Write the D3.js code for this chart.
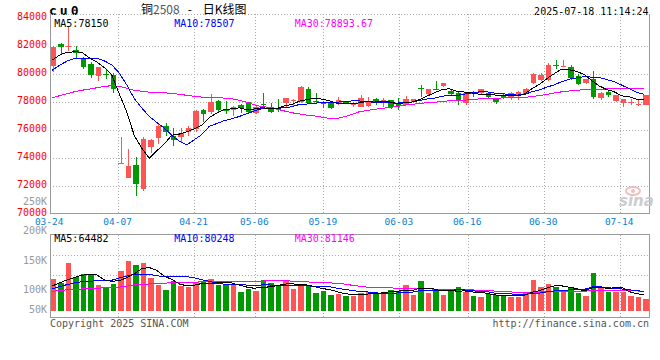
<!DOCTYPE html>
<html><head><meta charset="utf-8">
<script src="https://cdn.jsdelivr.net/npm/d3@7"></script>
<style>body{margin:0;background:#fff}svg{display:block}</style>
</head><body><svg id="c" width="660" height="360"></svg>
<script>
// ---------- data ----------
const tickLabels = ["03-24","04-07","04-21","05-06","05-19","06-03","06-16","06-30","07-14"];
const tickIndex  = [0, 9, 19, 27, 36, 46, 55, 65, 75];

const opens  = [80560,82130,82000,81750,81060,80750,79870,80020,79960,73640,
                72620,73490,71820,74800,75470,76340,75560,75500,75880,76090,
                77460,77320,78060,77430,77460,77820,78010,77270,77910,77660,
                77540,77940,78110,77990,78960,78070,77960,77990,77870,78060,
                77840,77700,77770,78250,78060,78180,77940,77820,78010,79020,
                78610,78980,79180,78840,78660,77940,78670,78660,78660,78230,
                78430,78370,78460,78610,79410,79560,79610,80650,80600,80510,
                79890,79410,79660,78340,78770,78060,77940,78000,77880,77820];
const closes = [81940,81940,82020,81510,80510,79920,80510,79990,78940,73680,
                73480,72130,75390,75340,76320,75900,75300,75780,76160,77410,
                77180,77990,77420,77400,77660,77560,77280,77700,77880,77340,
                77510,78320,78140,79060,77940,78050,77940,77560,78180,77890,
                77870,78300,78060,77940,78180,77660,77770,78230,78230,79000,
                78940,78960,79370,78610,78060,78660,78650,78940,78370,78010,
                78400,78700,78770,78960,80010,79960,80680,80620,80620,79770,
                79300,79660,78410,78700,78490,78490,78230,78030,77900,78490];
const highs  = [82000,82230,83370,82040,81230,80900,80520,80320,80090,75540,
                74680,74100,75510,75400,76510,76520,76150,76200,76300,77460,
                77540,78610,78180,78060,77750,77850,78050,77730,78650,77940,
                78250,78330,78250,79130,79060,78660,78060,78050,78370,78100,
                78040,78540,78410,78300,78300,78200,78300,78460,78260,79250,
                78960,79490,79390,78940,78770,78680,78840,78960,78770,78250,
                78660,78770,78820,79010,80090,80090,80800,81040,81040,80680,
                80010,79680,80250,78720,78800,78500,78250,78230,78180,78500];
const lows   = [80200,81460,81700,81190,80390,79770,79490,79660,78700,73600,
                72580,71340,71700,74390,75040,75560,74890,75150,75560,75910,
                76560,77140,77270,77180,77040,77270,77200,77180,77700,77270,
                77340,77700,77700,77950,77900,77890,77580,77500,77800,77850,
                77660,77650,77700,77800,77660,77510,77460,77780,77950,78410,
                78460,78940,79090,78540,77820,77820,78410,78600,78230,77890,
                78230,78180,78130,78560,79300,79490,79550,80370,80590,79610,
                79250,79320,78230,78180,78410,78000,77700,77820,77770,77800];
const volumesK = [118.6,111.9,145.8,122.0,126.6,125.4,108.5,102.9,110.2,132.2,
                  149.2,142.4,146.3,120.3,108.5,100.0,115.3,107.3,104.6,113.1,
                  114.7,118.6,108.5,108.5,109.0,97.1,101.7,98.3,117.0,111.9,
                  108.0,114.7,101.7,109.7,108.5,94.9,98.8,91.5,93.2,89.8,
                  90.3,95.4,97.1,95.4,96.6,100.0,98.3,108.5,91.5,115.3,
                  94.9,98.3,91.5,100.0,105.1,97.1,89.8,88.1,92.7,91.5,
                  90.3,87.6,87.6,97.1,117.0,105.1,110.2,104.6,98.3,104.6,
                  94.9,89.8,128.8,104.6,97.1,97.1,97.1,89.8,88.1,84.7];

// moving-average values before enough in-window history exists
const ma5Lead  = [80990,81360,81570,81600];
const ma10Lead = [80270,80630,80930,81130,81160,81160,81140,80960,80680];
const ma30Lead = [78300,78464,78607,78750,78857,78943,79036,79143,79179,79143,
                  79000,78857,78786,78729,78693,78679,78643,78571,78500,78429,
                  78371,78357,78343,78300,78250,78143,78000,77821,77679];
const vma5Lead  = [106.3,111.9,117.0,121.2];
const vma10Lead = [101.7,105.5,109,112,114,115,115.5,116,116.5];
const vma30Lead = [97.8,99,100.2,101,101.7,102.2,103,103.7,104.3,105,
                   106.5,108.5,109.6,110.2,110.8,111.5,112.5,113.1,113.3,113.5,
                   113.6,113.8,114,114.2,114.4,114.6,114.7,114.7,114.7];

const priceTicks = [84000,82000,80000,78000,76000,74000,72000,70000];
const priceGrid  = [82000,80000,78000,76000,74000,72000];
const volTicks   = [250,200,150,100,50];
const volTickLabels = ["250K","200K","150K","100K","50K"];

const priceMaLabels = ["MA5:78150","MA10:78507","MA30:78893.67"];
const volMaLabels   = ["MA5:64482","MA10:80248","MA30:81146"];
const maColors = ["#000000","#0000ff","#ff00ff"];

// ---------- helpers ----------
function movingAvg(vals, n, lead){
  return vals.map((v,i)=> i < n-1 ? lead[i] : d3.mean(vals.slice(i-n+1,i+1)));
}

const svg = d3.select("#c");
const MONO = "'DejaVu Sans Mono', monospace";
const L=50, R=649.5, T=14, B=213.5, VT=234.5, VB=317.5, VBASE=310.7;
const N = closes.length;
const RED="#ff5454", GREEN="#009a00", GRID="#aaaaaa", BORDER="#999999";

const xC = d3.scaleLinear().domain([0,N-1]).range([50.7,643.2]);
const xG = d3.scaleLinear().domain([0,N-1]).range([50,650.4]);
const yP = d3.scaleLinear().domain([70000,84000]).range([214.3,18.3]);
const yV = d3.scaleLinear().domain([100,150]).range([290,260.5]);
const BW = 5.7;

// ---------- header texts ----------
svg.append("text").attr("x",49).attr("y",11.5).attr("dominant-baseline","middle")
  .attr("font-family",MONO).attr("font-weight","bold").attr("font-size",13)
  .attr("letter-spacing",3).attr("fill","#000").text("cu0");
const title = svg.append("text").attr("x",141).attr("y",14)
  .attr("font-family","'Noto Sans CJK SC', sans-serif")
  .attr("font-size",12).attr("fill","#000");
title.append("tspan").text("铜");
title.append("tspan").attr("fill","#555").text("2508");
title.append("tspan").attr("dx",8).text("-");
title.append("tspan").attr("dx",11).text("日K线图");
svg.append("text").attr("x",648.5).attr("y",11.5).attr("text-anchor","end")
  .attr("dominant-baseline","middle").attr("font-family",MONO).attr("font-size",10)
  .attr("fill","#000").text("2025-07-18 11:14:24");

// ---------- grids ----------
const grid = svg.append("g").attr("stroke",GRID).attr("stroke-dasharray","1,2")
  .attr("shape-rendering","crispEdges");
grid.selectAll(".hg").data(priceGrid).join("line")
  .attr("x1",L).attr("x2",R).attr("y1",d=>yP(d)).attr("y2",d=>yP(d));
grid.append("line").attr("x1",L).attr("x2",R).attr("y1",T).attr("y2",T);
grid.selectAll(".vg").data(tickIndex.slice(1)).join("line")
  .attr("x1",d=>xG(d)).attr("x2",d=>xG(d)).attr("y1",T).attr("y2",B);
grid.selectAll(".vg2").data(tickIndex.slice(1)).join("line")
  .attr("x1",d=>xG(d)).attr("x2",d=>xG(d)).attr("y1",VT).attr("y2",VB);
grid.selectAll(".vh").data([255,275.7]).join("line")
  .attr("x1",L).attr("x2",R).attr("y1",d=>d).attr("y2",d=>d);

// ---------- borders ----------
const bd = svg.append("g").attr("stroke",BORDER).attr("shape-rendering","crispEdges").attr("fill","none");
bd.append("path").attr("d",`M${L},${T}V${B}H${R}V${T}`);
bd.append("rect").attr("x",L).attr("y",VT).attr("width",R-L).attr("height",VB-VT);

// ---------- axes labels ----------
const pAx = svg.append("g").attr("transform",`translate(47,-2.2)`)
  .call(d3.axisLeft(yP).tickValues(priceTicks).tickSize(0).tickPadding(0).tickFormat(d3.format("d")));
pAx.select(".domain").remove();
pAx.selectAll("text").attr("fill","#ff0000").attr("font-family",MONO).attr("font-size",10);

const vAx = svg.append("g").attr("transform",`translate(47,0)`)
  .call(d3.axisLeft(yV).tickValues(volTicks).tickSize(0).tickPadding(0)
    .tickFormat((d,i)=>volTickLabels[i]));
vAx.select(".domain").remove();
vAx.selectAll(".tick").attr("transform",d=>`translate(0,${Math.min(yV(d),VBASE-0.5)})`);
vAx.selectAll("text").attr("fill","#999").attr("font-family",MONO).attr("font-size",10);

const dAx = svg.append("g").attr("transform",`translate(-1.3,221.7)`)
  .call(d3.axisBottom(xG).tickValues(tickIndex).tickSize(0).tickPadding(0)
    .tickFormat((d,i)=>tickLabels[i]));
dAx.select(".domain").remove();
dAx.selectAll("text").attr("y",0).attr("dy","0.35em").attr("fill","#0a7fd8")
  .attr("font-family",MONO).attr("font-size",9.5);

// ---------- candles ----------
const idx = d3.range(N);
const col = i => closes[i] >= opens[i] ? RED : GREEN;
const cg = svg.append("g").attr("shape-rendering","crispEdges");
cg.selectAll(".wick").data(idx).join("line")
  .attr("x1",i=>xC(i)+BW/2).attr("x2",i=>xC(i)+BW/2)
  .attr("y1",i=>yP(highs[i])).attr("y2",i=>yP(lows[i]))
  .attr("stroke",col).attr("stroke-width",1);
cg.selectAll(".body").data(idx).join("rect")
  .attr("x",i=>xC(i)).attr("width",BW)
  .attr("y",i=>yP(Math.max(opens[i],closes[i])))
  .attr("height",i=>Math.max(1,Math.abs(yP(opens[i])-yP(closes[i]))))
  .attr("fill",col);

// ---------- volume bars ----------
cg.selectAll(".vol").data(idx).join("rect")
  .attr("x",i=>xC(i)).attr("width",BW)
  .attr("y",i=>yV(volumesK[i])).attr("height",i=>VBASE-yV(volumesK[i]))
  .attr("fill",col);

// ---------- moving average lines ----------
const pMA = [movingAvg(closes,5,ma5Lead), movingAvg(closes,10,ma10Lead), movingAvg(closes,30,ma30Lead)];
const vMA = [movingAvg(volumesK,5,vma5Lead), movingAvg(volumesK,10,vma10Lead), movingAvg(volumesK,30,vma30Lead)];
const lineP = d3.line().x((d,i)=>xC(i)+1).y(d=>yP(d));
const lineV = d3.line().x((d,i)=>xC(i)+1).y(d=>yV(d));
const mg = svg.append("g").attr("fill","none").attr("stroke-width",1).attr("shape-rendering","crispEdges");
[2,1,0].forEach(k=>{
  mg.append("path").attr("d",lineP(pMA[k])).attr("stroke",maColors[k]);
  mg.append("path").attr("d",lineV(vMA[k])).attr("stroke",maColors[k]);
});

// ---------- MA labels ----------
const labX = [54.3,174.3,294.7];
svg.selectAll(".pml").data(priceMaLabels).join("text")
  .attr("x",(d,i)=>labX[i]).attr("y",24).attr("dominant-baseline","middle")
  .attr("font-family",MONO).attr("font-size",10).attr("fill",(d,i)=>maColors[i]).text(d=>d);
svg.selectAll(".vml").data(volMaLabels).join("text")
  .attr("x",(d,i)=>labX[i]).attr("y",238.5).attr("dominant-baseline","middle")
  .attr("font-family",MONO).attr("font-size",10).attr("fill",(d,i)=>maColors[i]).text(d=>d);

// ---------- footer ----------
svg.append("text").attr("x",50).attr("y",323.5).attr("dominant-baseline","middle")
  .attr("font-family",MONO).attr("font-size",10).attr("fill","#555").text("Copyright 2025 SINA.COM");
svg.append("text").attr("x",649).attr("y",323.5).attr("text-anchor","end").attr("dominant-baseline","middle")
  .attr("font-family",MONO).attr("font-size",10).attr("fill","#555").text("http://finance.sina.com.cn");

// ---------- sina watermark ----------
const wm = svg.append("g").attr("opacity",0.9);
wm.append("ellipse").attr("cx",633).attr("cy",191).attr("rx",7).attr("ry",4)
  .attr("fill","none").attr("stroke","#f2b8b8").attr("stroke-width",2);
wm.append("circle").attr("cx",633).attr("cy",191).attr("r",2).attr("fill","#f2b8b8");
wm.append("text").attr("x",619).attr("y",206).attr("font-family","'DejaVu Sans', sans-serif")
  .attr("font-style","italic").attr("font-weight","bold").attr("font-size",15)
  .attr("fill","#c8c8c8").text("sina");
</script></body></html>
